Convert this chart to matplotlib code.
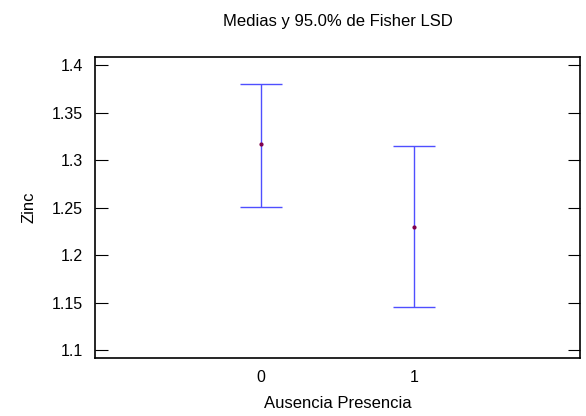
import numpy as np
import matplotlib.pyplot as plt

plt.rcParams['font.family'] = ['Liberation Sans', 'DejaVu Sans']

groups = [0, 1]
means = [1.3167, 1.2300]
lower = [1.2510, 1.1457]
upper = [1.3807, 1.3146]

fig = plt.figure(figsize=(5.86, 4.16), dpi=100)
ax = fig.add_axes([95/586, 1-358/416, (580-95)/586, (358-57)/416])

m = np.array(means)
yerr = [m - np.array(lower), np.array(upper) - m]
ax.errorbar(groups, means, yerr=yerr, fmt='none', ecolor='#4f4fff',
            elinewidth=1, capsize=15, capthick=1)
ax.plot(groups, means, 'o', color='#80004a', markersize=2, zorder=3)

ax.set_xlim(-1.085, 2.085)
ax.set_ylim(1.0916, 1.4087)
ax.set_xticks(groups)
ax.set_xticklabels(['0', '1'])
ax.set_yticks([1.1, 1.15, 1.2, 1.25, 1.3, 1.35, 1.4])
ax.set_yticklabels(['1.1', '1.15', '1.2', '1.25', '1.3', '1.35', '1.4'])
ax.tick_params(axis='x', length=0, labelsize=11.5, pad=8.5)
ax.tick_params(axis='y', direction='in', length=9, labelsize=11.5, right=True, pad=8.5)
for s in ax.spines.values():
    s.set_linewidth(1.2)

ax.set_xlabel('Ausencia Presencia', fontsize=12, labelpad=8)
ax.set_ylabel('Zinc', fontsize=12, labelpad=11)
ax.set_title('Medias y 95.0% de Fisher LSD', fontsize=12, pad=22)

fig.savefig('out.png', dpi=100)
